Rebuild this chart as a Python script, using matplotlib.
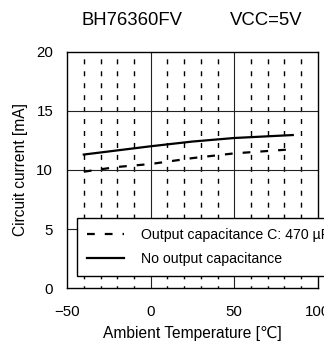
import numpy as np
import matplotlib.pyplot as plt

plt.rcParams['font.family'] = ['Liberation Sans', 'DejaVu Sans']

# ---------------------------
# data
# ---------------------------
temp = [-40, -20, 0, 25, 50, 85]
cur_cap = [9.85, 10.25, 10.5, 11.0, 11.4, 11.75]
cur_nocap = [11.3, 11.65, 12.0, 12.4, 12.7, 12.95]

x_ticks = [-50, 0, 50, 100]
y_ticks = [0, 5, 10, 15, 20]
x_minor = [-40, -30, -20, -10, 10, 20, 30, 40, 60, 70, 80, 90]

fig = plt.figure(figsize=(3.24, 3.54), dpi=100)
ax = fig.add_axes([0.207, 0.186, 0.774, 0.668])

# grid
for xv in x_minor:
    ax.axvline(xv, color='black', lw=1.0, linestyle=(2, (3.6, 5.0)), zorder=1)
for xv in [0, 50]:
    ax.axvline(xv, color='#222222', lw=0.8, zorder=1)
for yv in [5, 10, 15]:
    ax.axhline(yv, color='#222222', lw=0.8, zorder=1)

ax.plot(temp, cur_cap, color='black', lw=1.6, linestyle=(0, (3.5, 4.5)),
        label='Output capacitance C: 470 µF', zorder=3)
ax.plot(temp, cur_nocap, color='black', lw=1.6,
        label='No output capacitance', zorder=3)

ax.set_xlim(-50, 100)
ax.set_ylim(0, 20)
ax.set_xticks(x_ticks)
ax.set_yticks(y_ticks)
ax.tick_params(length=0, labelsize=10.8)
ax.tick_params(axis='x', pad=12)
ax.tick_params(axis='y', pad=10)
for s in ax.spines.values():
    s.set_linewidth(1.0)

ax.set_xlabel('Ambient Temperature [℃]', fontsize=11.2, labelpad=5)
ax.set_ylabel('Circuit current [mA]', fontsize=11.2, labelpad=6)

fig.text(0.407, 0.943, 'BH76360FV', fontsize=13.3, ha='center', va='center')
fig.text(0.821, 0.943, 'VCC=5V', fontsize=13.3, ha='center', va='center')

leg = ax.legend(loc='upper left', bbox_to_anchor=(0.04, 0.296),
                fancybox=False, framealpha=1, edgecolor='black',
                fontsize=10.2, handlelength=2.6, labelspacing=0.72,
                borderpad=0.7, handletextpad=1.2, borderaxespad=0)
leg.get_frame().set_linewidth(1.0)
leg.set_zorder(5)

fig.savefig('out.png', dpi=100)
